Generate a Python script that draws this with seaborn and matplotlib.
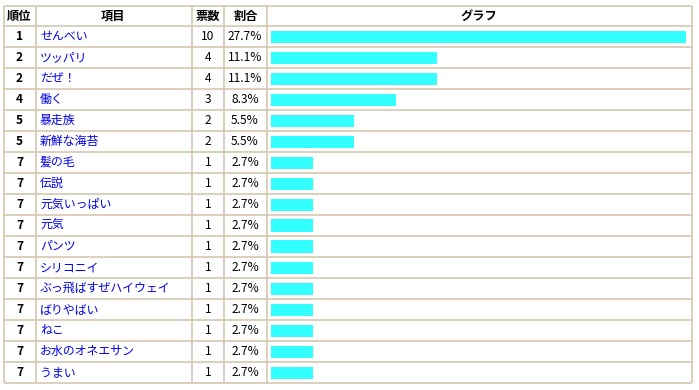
import matplotlib
matplotlib.use("Agg")
import matplotlib.pyplot as plt
import seaborn as sns
import pandas as pd

ranks = [1, 2, 2, 4, 5, 5, 7, 7, 7, 7, 7, 7, 7, 7, 7, 7, 7]
items = ["せんべい", "ツッパリ", "だぜ！", "働く", "暴走族", "新鮮な海苔", "髪の毛", "伝説",
         "元気いっぱい", "元気", "パンツ", "シリコニイ", "ぶっ飛ばすぜハイウェイ", "ばりやばい",
         "ねこ", "お水のオネエサン", "うまい"]
votes = [10, 4, 4, 3, 2, 2, 1, 1, 1, 1, 1, 1, 1, 1, 1, 1, 1]
percents = ["27.7%", "11.1%", "11.1%", "8.3%", "5.5%", "5.5%", "2.7%", "2.7%", "2.7%",
            "2.7%", "2.7%", "2.7%", "2.7%", "2.7%", "2.7%", "2.7%", "2.7%"]
headers = ["順位", "項目", "票数", "割合", "グラフ"]

sns.set_theme(style="white")
plt.rcParams['font.family'] = ['Noto Sans CJK JP', 'DejaVu Sans']

W, H = 699, 390
fig = plt.figure(figsize=(W / 100, H / 100), dpi=100)
fig.patch.set_facecolor("white")

ax0 = fig.add_axes([0, 0, 1, 1])
ax0.set_xlim(0, W)
ax0.set_ylim(H, 0)
ax0.axis("off")

line_c = "#D4C8B0"
top, head_bot, row_h = 6, 26, 21
n = len(items)
bottom = head_bot + row_h * n
col_x = [4, 35.5, 191.5, 224, 266.5, 692]

# horizontal lines
for yy in [top, head_bot] + [head_bot + row_h * (i + 1) for i in range(n)]:
    ax0.plot([col_x[0], col_x[-1]], [yy, yy], color=line_c, lw=1.2, solid_capstyle="butt")
for xx in col_x:
    ax0.plot([xx, xx], [top, bottom], color=line_c, lw=1.2, solid_capstyle="butt")

# headers
hx = [19.5, 113.5, 208, 245.5, 479]
for x, h in zip(hx, headers):
    ax0.text(x, (top + head_bot) / 2, h, ha="center", va="center", fontsize=8.8,
             fontweight="bold", color="black")

fs = 8.6
for i in range(n):
    yc = head_bot + row_h * i + row_h / 2
    ax0.text(19.5, yc, str(ranks[i]), ha="center", va="center", fontsize=fs,
             fontweight="bold", color="black")
    ax0.text(40, yc, items[i], ha="left", va="center", fontsize=fs, color="#0000EE")
    ax0.text(208, yc, str(votes[i]), ha="center", va="center", fontsize=fs, color="black")
    ax0.text(245, yc, percents[i], ha="center", va="center", fontsize=fs, color="black")

# bars
bx0, bx1 = 271, 686
ax1 = fig.add_axes([bx0 / W, (H - bottom) / H, (bx1 - bx0) / W, (bottom - head_bot) / H])
ax1.patch.set_alpha(0)
df = pd.DataFrame({"item": items, "votes": votes})
sns.barplot(data=df, x="votes", y="item", orient="h", color="#33FFFF", width=12 / 21,
            saturation=1, ax=ax1, edgecolor="none", linewidth=0)
ax1.set_xlim(0, 10)
ax1.set_ylim(n - 0.5, -0.5)
ax1.axis("off")

fig.savefig("out.png", dpi=100, facecolor="white")
